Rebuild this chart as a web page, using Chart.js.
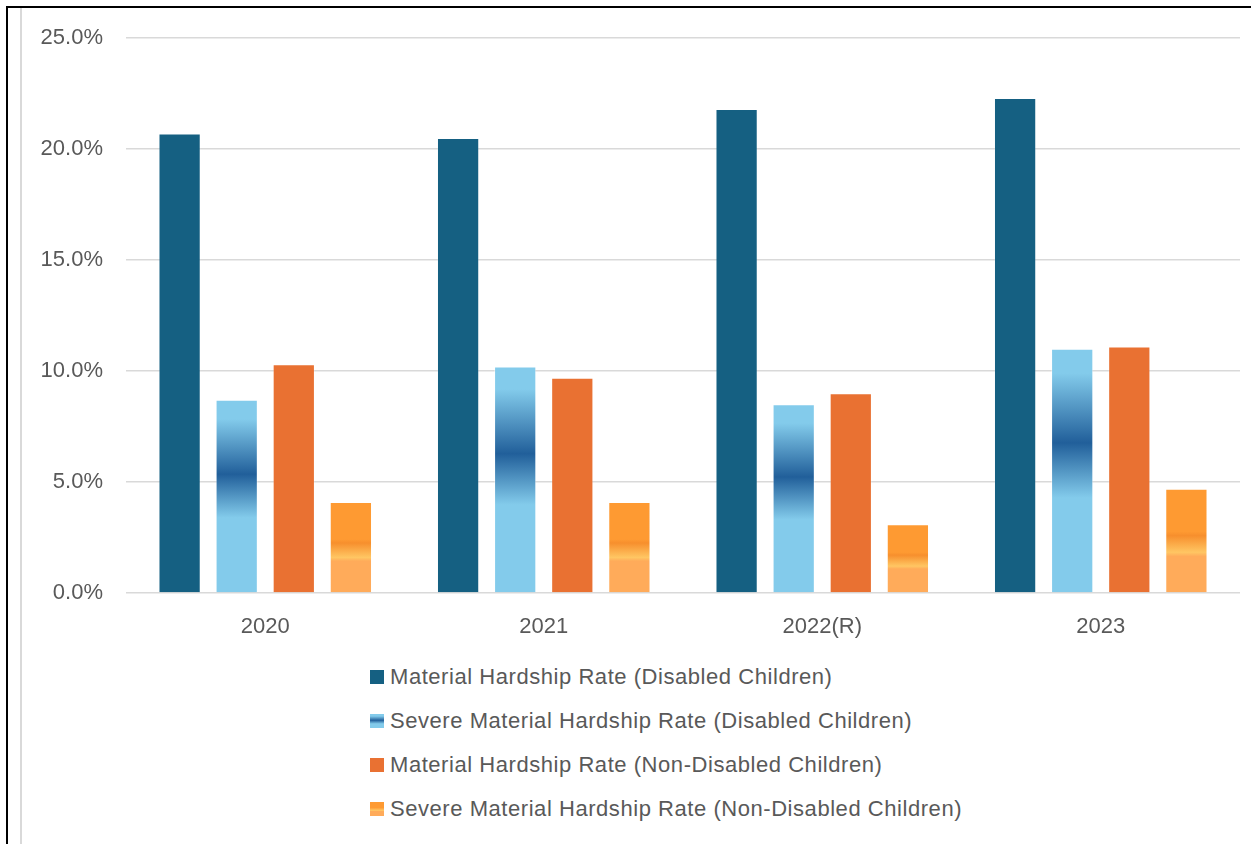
<!DOCTYPE html>
<html lang="en">
<head>
<meta charset="UTF-8" />
<title>Material Hardship Rates</title>
<script src="https://cdn.jsdelivr.net/npm/chart.js"></script>
<style>
  html, body { margin: 0; padding: 0; background: #fff; }
  body { width: 1251px; height: 844px; position: relative; overflow: hidden; }
  .frame {
    position: absolute; left: 6px; top: 6px; right: -10px; bottom: -10px;
    border-top: 2px solid #000; border-left: 2px solid #000;
  }
  .frame::before {
    content: ''; position: absolute; left: 12px; top: 0; bottom: 0;
    width: 2px; background: #d9d9d9;
  }
  #chart { position: absolute; left: 0; top: 0; }
  #legend {
    position: absolute; left: 370px; top: 655px;
    font-family: 'Liberation Sans', Arial, sans-serif; font-size: 22px;
    color: #595959; letter-spacing: 0.55px;
  }
  #legend .item { display: flex; align-items: center; height: 44px; }
  #legend .sw { width: 14px; height: 14px; margin-right: 6px; flex-shrink: 0; }
</style>
</head>
<body>

<div class="frame"></div>
<canvas id="chart" width="1251" height="651"></canvas>
<div id="legend"></div>

<script>
  // data
  const years = ['2020', '2021', '2022(R)', '2023'];
  const seriesNames = [
    'Material Hardship Rate (Disabled Children)',
    'Severe Material Hardship Rate (Disabled Children)',
    'Material Hardship Rate (Non-Disabled Children)',
    'Severe Material Hardship Rate (Non-Disabled Children)'
  ];
  const hardshipDisabled = [20.7, 20.5, 21.8, 22.3];
  const severeDisabled = [8.7, 10.2, 8.5, 11.0];
  const hardshipNonDisabled = [10.3, 9.7, 9.0, 11.1];
  const severeNonDisabled = [4.1, 4.1, 3.1, 4.7];
  const yTicks = [0, 5, 10, 15, 20, 25];

  const DARK_BLUE = '#156082';
  const ORANGE = '#E97132';

  // gradient stops, measured from the top of each bar
  const blueStops = [[0, '#83CBEB'], [0.1, '#83CBEB'], [0.385, '#215F9A'], [0.61, '#83CBEB'], [1, '#83CBEB']];
  const orangeStops = [[0, '#FE9A32'], [0.41, '#FE9A32'], [0.45, '#F78F2D'], [0.61, '#FFC663'], [0.65, '#FFAB5A'], [1, '#FFAB5A']];

  function barGradient(stops, fallback) {
    return function (ctx) {
      const chart = ctx.chart;
      const y = chart.scales.y;
      if (!chart.chartArea || !y || ctx.type !== 'data') return fallback;
      const v = ctx.dataset.data[ctx.dataIndex];
      const top = y.getPixelForValue(v);
      const base = y.getPixelForValue(0);
      const g = chart.ctx.createLinearGradient(0, top, 0, base);
      stops.forEach(s => g.addColorStop(s[0], s[1]));
      return g;
    };
  }

  const axisFont = { family: "'Liberation Sans', Arial, sans-serif", size: 22 };

  new Chart(document.getElementById('chart'), {
    type: 'bar',
    data: {
      labels: years,
      datasets: [
        { label: seriesNames[0], data: hardshipDisabled, backgroundColor: DARK_BLUE,
          borderColor: 'rgba(255,255,255,0.15)', borderWidth: 1 },
        { label: seriesNames[1], data: severeDisabled, backgroundColor: barGradient(blueStops, '#83CBEB'),
          borderColor: 'rgba(255,255,255,0.45)', borderWidth: 1 },
        { label: seriesNames[2], data: hardshipNonDisabled, backgroundColor: ORANGE,
          borderColor: 'rgba(255,255,255,0.2)', borderWidth: 1 },
        { label: seriesNames[3], data: severeNonDisabled, backgroundColor: barGradient(orangeStops, '#FFAB5A'),
          borderColor: 'rgba(255,255,255,0.4)', borderWidth: 1 }
      ]
    },
    options: {
      responsive: false,
      animation: false,
      categoryPercentage: 0.82,
      barPercentage: 0.74,
      layout: { padding: { top: 38, right: 11, left: 0, bottom: 0 } },
      plugins: { legend: { display: false }, tooltip: { enabled: false } },
      scales: {
        x: {
          grid: { display: false },
          border: { display: false },
          ticks: { color: '#595959', font: axisFont, padding: 13 },
          afterFit: s => { s.height = 58; }
        },
        y: {
          min: 0, max: 25,
          afterBuildTicks: s => { s.ticks = yTicks.map(v => ({ value: v })); },
          grid: { color: '#d9d9d9', lineWidth: 1.5, drawTicks: false },
          border: { display: false },
          ticks: { color: '#595959', font: axisFont, padding: 23, callback: v => v.toFixed(1) + '%' },
          afterFit: s => { s.width = 126; }
        }
      }
    }
  });

  // legend, one entry per line
  const swatches = [
    DARK_BLUE,
    'linear-gradient(#83CBEB 0%, #83CBEB 15%, #215F9A 45%, #83CBEB 70%, #83CBEB 100%)',
    ORANGE,
    'linear-gradient(#FE9A32 0%, #FE9A32 40%, #FFC663 60%, #FFAB5A 68%, #FFAB5A 100%)'
  ];
  const legend = document.getElementById('legend');
  seriesNames.forEach((name, i) => {
    const item = document.createElement('div');
    item.className = 'item';
    item.innerHTML = `<span class="sw" style="background:${swatches[i]}"></span><span>${name}</span>`;
    legend.appendChild(item);
  });
</script>

</body>
</html>
